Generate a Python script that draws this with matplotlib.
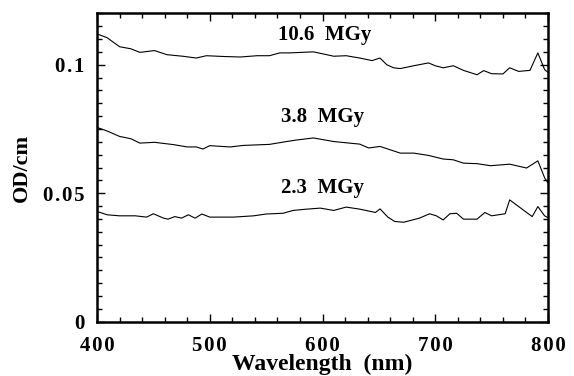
import matplotlib
matplotlib.use("Agg")
import matplotlib.pyplot as plt
from matplotlib.ticker import MultipleLocator

plt.rcParams['font.family'] = ['Liberation Serif', 'DejaVu Serif']
plt.rcParams['font.weight'] = 'bold'

# 10.6 MGy
wl_a = [400, 409, 420, 430, 438, 451, 462, 476, 488, 497, 512, 527, 542, 553, 562, 571,
        592, 610, 621, 633, 644, 651, 657, 663, 669, 681, 694, 700, 707, 716, 725, 737,
        743, 750, 760, 766, 774, 784, 791, 797, 800]
od_a = [0.1120, 0.1105, 0.1070, 0.1062, 0.1048, 0.1055, 0.1039, 0.1033, 0.1026, 0.1035,
        0.1032, 0.1030, 0.1035, 0.1035, 0.1046, 0.1046,
        0.1050, 0.1033, 0.1035, 0.1026, 0.1016, 0.1026, 0.1000, 0.0988, 0.0985, 0.0996,
        0.1007, 0.0996, 0.0988, 0.0996, 0.0978, 0.0961, 0.0977, 0.0965, 0.0964, 0.0988,
        0.0974, 0.0978, 0.1046, 0.0981, 0.0970]

# 3.8 MGy
wl_b = [400, 409, 420, 430, 438, 451, 468, 480, 488, 494, 500, 518, 530, 553, 568, 577,
        592, 610, 633, 641, 651, 669, 681, 694, 707, 716, 725, 737, 749, 766, 781, 791,
        797, 800]
od_b = [0.0756, 0.0742, 0.0721, 0.0712, 0.0695, 0.0698, 0.0689, 0.0680, 0.0680, 0.0672,
        0.0685, 0.0680, 0.0686, 0.0690, 0.0701, 0.0707,
        0.0715, 0.0701, 0.0691, 0.0676, 0.0682, 0.0656, 0.0656, 0.0647, 0.0633, 0.0630,
        0.0617, 0.0615, 0.0607, 0.0613, 0.0598, 0.0626, 0.0560, 0.0540]

# 2.3 MGy
wl_c = [400, 409, 420, 434, 444, 450, 459, 463, 469, 475, 481, 487, 493, 500, 521, 539,
        550, 565, 574, 586, 598, 610, 621, 633, 647, 651, 658, 664, 672, 686, 695, 701,
        707, 713, 719, 725, 737, 744, 750, 762, 766, 774, 786, 791, 797, 800]
od_c = [0.0429, 0.0416, 0.0412, 0.0412, 0.0407, 0.0420, 0.0403, 0.0399, 0.0409, 0.0403,
        0.0416, 0.0403, 0.0419, 0.0407, 0.0407, 0.0412, 0.0419, 0.0422, 0.0433, 0.0438,
        0.0442, 0.0433, 0.0446, 0.0438, 0.0425, 0.0439, 0.0407, 0.0390, 0.0387, 0.0403,
        0.0420, 0.0412, 0.0396, 0.0420, 0.0422, 0.0399, 0.0399, 0.0425, 0.0412, 0.0420,
        0.0474, 0.0448, 0.0409, 0.0448, 0.0412, 0.0405]

labels = ["10.6  MGy", "3.8  MGy", "2.3  MGy"]
label_x = [602, 600, 600]
label_y = [0.1117, 0.0798, 0.0521]

xticks = [400, 500, 600, 700, 800]
yticks = [0, 0.05, 0.1]
yticklabels = ["0", "0.05", "0.1"]


def spaced(s):
    return "\u200a".join(s)


fig = plt.figure(figsize=(5.74, 3.76), dpi=100)
ax = fig.add_axes([0.169, 0.1444, 0.7857, 0.8202])

for wl, od in [(wl_a, od_a), (wl_b, od_b), (wl_c, od_c)]:
    ax.plot(wl, od, color='black', lw=0.8)

for t, x, y in zip(labels, label_x, label_y):
    ax.text(x, y, t, ha='center', va='center', fontsize=15, fontweight='bold')

ax.set_xlim(400, 800)
ax.set_ylim(0, 0.12)
ax.set_xticks(xticks)
ax.set_xticklabels([spaced(str(v)) for v in xticks])
ax.set_yticks(yticks)
ax.set_yticklabels([spaced(v) for v in yticklabels])
ax.xaxis.set_minor_locator(MultipleLocator(20))
ax.yaxis.set_minor_locator(MultipleLocator(0.005))
ax.tick_params(which='both', direction='in', top=True, right=True, width=1.0)
ax.tick_params(which='major', length=6, labelsize=15)
ax.tick_params(axis='x', which='major', pad=10)
ax.tick_params(axis='y', which='major', pad=9)
ax.tick_params(which='minor', length=3.5)
for s in ax.spines.values():
    s.set_linewidth(1.8)

ax.set_xlabel("Wavelength  (nm)", fontsize=17, fontweight='bold')
ax.xaxis.label.set_verticalalignment('baseline')
ax.xaxis.set_label_coords(0.5, -0.1566)
ax.set_ylabel("OD/cm", fontsize=16, fontweight='bold', labelpad=8)

fig.savefig("out.png", dpi=100)
